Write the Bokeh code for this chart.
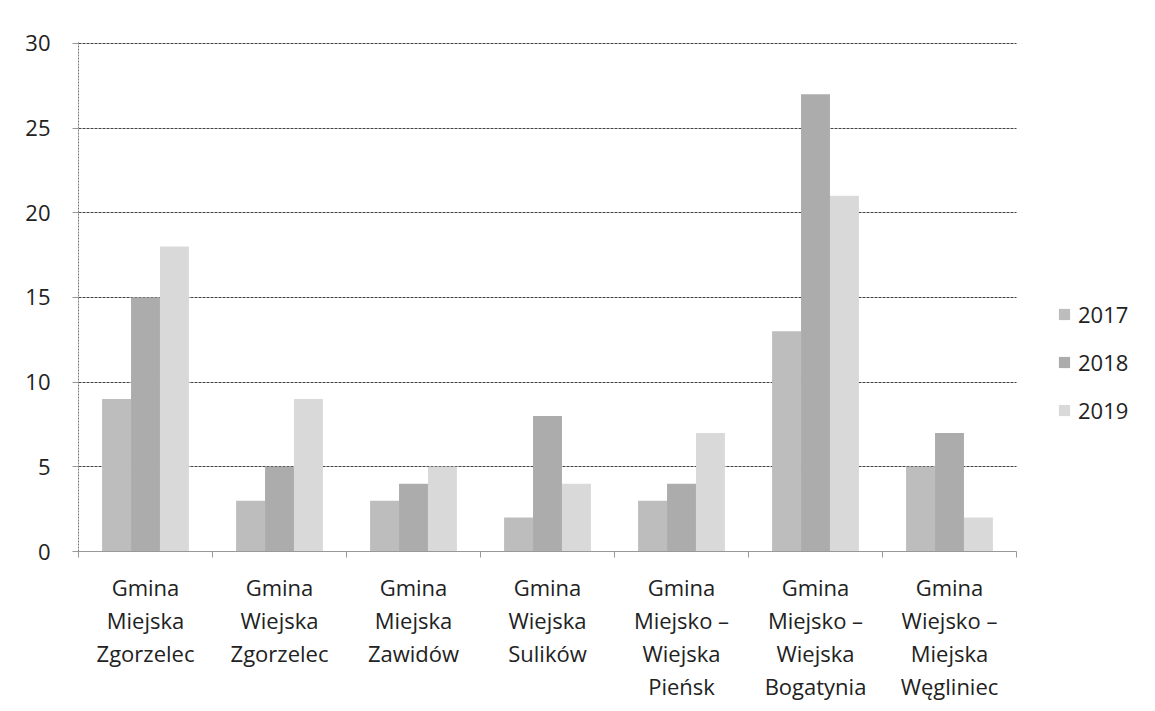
from bokeh.plotting import figure
from bokeh.models import ColumnDataSource, FixedTicker, Legend, LegendItem, Range1d
from bokeh.embed import file_html
from bokeh.resources import INLINE
import numpy as np

categories = ["Gmina\nMiejska\nZgorzelec", "Gmina\nWiejska\nZgorzelec", "Gmina\nMiejska\nZawidów",
              "Gmina\nWiejska\nSulików", "Gmina\nMiejsko –\nWiejska\nPieńsk",
              "Gmina\nMiejsko –\nWiejska\nBogatynia", "Gmina\nWiejsko –\nMiejska\nWęgliniec"]
years = ["2017", "2018", "2019"]
v2017 = [9, 3, 3, 2, 3, 13, 5]
v2018 = [15, 5, 4, 8, 4, 27, 7]
v2019 = [18, 9, 5, 4, 7, 21, 2]
y_ticks = [0, 5, 10, 15, 20, 25, 30]

colors = ["#bdbdbd", "#acacac", "#d9d9d9"]
FONT = "Open Sans"

W, H = 1139, 703
LEFT, TOP, BOTTOM = 78, 42, 149
CAT_PX = 938  # pixel width of the category area
n = len(categories)
x_end = n * (W - LEFT) / CAT_PX

p = figure(width=W, height=H, output_backend="svg", toolbar_location=None,
           x_range=Range1d(0, x_end), y_range=Range1d(0, 30.05),
           min_border_left=LEFT, min_border_right=0, min_border_top=TOP, min_border_bottom=BOTTOM)
p.outline_line_color = None
p.background_fill_color = "white"
p.border_fill_color = "white"

centers = np.arange(n) + 0.5
bw = 0.216
series = [v2017, v2018, v2019]
renderers = []
for i, (yr, vals) in enumerate(zip(years, series)):
    src = ColumnDataSource(dict(x=centers + (i - 1) * bw, top=vals))
    r = p.vbar(x="x", top="top", width=bw, source=src, fill_color=colors[i], line_color=None)
    renderers.append(r)

# grid
p.xgrid.grid_line_color = None
yg = p.ygrid[0]
yg.ticker = FixedTicker(ticks=y_ticks)
if "cross_bounds" in yg.properties():
    yg.cross_bounds = (0, n)
yg.grid_line_color = "#444444"
yg.grid_line_dash = "3 1"
yg.grid_line_width = 1

# y axis
p.yaxis.ticker = FixedTicker(ticks=y_ticks)
p.yaxis.axis_line_color = "#777777"
p.yaxis.axis_line_dash = "2 1"
p.yaxis.major_tick_line_color = "#999999"
p.yaxis.major_tick_out = 6
p.yaxis.major_tick_in = 0
p.yaxis.minor_tick_line_color = None
p.yaxis.major_label_text_font = FONT
p.yaxis.major_label_text_font_size = "22px"
p.yaxis.major_label_text_color = "#222222"
p.yaxis.major_label_standoff = 22

# x axis
p.xaxis.bounds = (0, n)
p.xaxis.ticker = FixedTicker(ticks=list(centers), minor_ticks=list(range(n + 1)))
p.xaxis.major_label_overrides = {float(c): lab for c, lab in zip(centers, categories)}
p.xaxis.axis_line_color = "#999999"
p.xaxis.major_tick_line_color = None
p.xaxis.minor_tick_line_color = "#999999"
p.xaxis.minor_tick_out = 6
p.xaxis.minor_tick_in = 0
p.xaxis.major_label_text_font = FONT
p.xaxis.major_label_text_font_size = "22px"
p.xaxis.major_label_text_color = "#222222"
p.xaxis.major_label_text_line_height = 1.1
p.xaxis.major_label_standoff = 14

legend = Legend(items=[LegendItem(label=yr, renderers=[r]) for yr, r in zip(years, renderers)],
                location=(979, 126), border_line_color=None, background_fill_alpha=0,
                label_text_font=FONT, label_text_font_size="22px", label_text_color="#222222",
                glyph_width=14, glyph_height=14, label_height=20, spacing=18, label_standoff=7,
                padding=0, margin=0)
p.add_layout(legend, "center")

open("out.html", "w").write(file_html(p, INLINE))
